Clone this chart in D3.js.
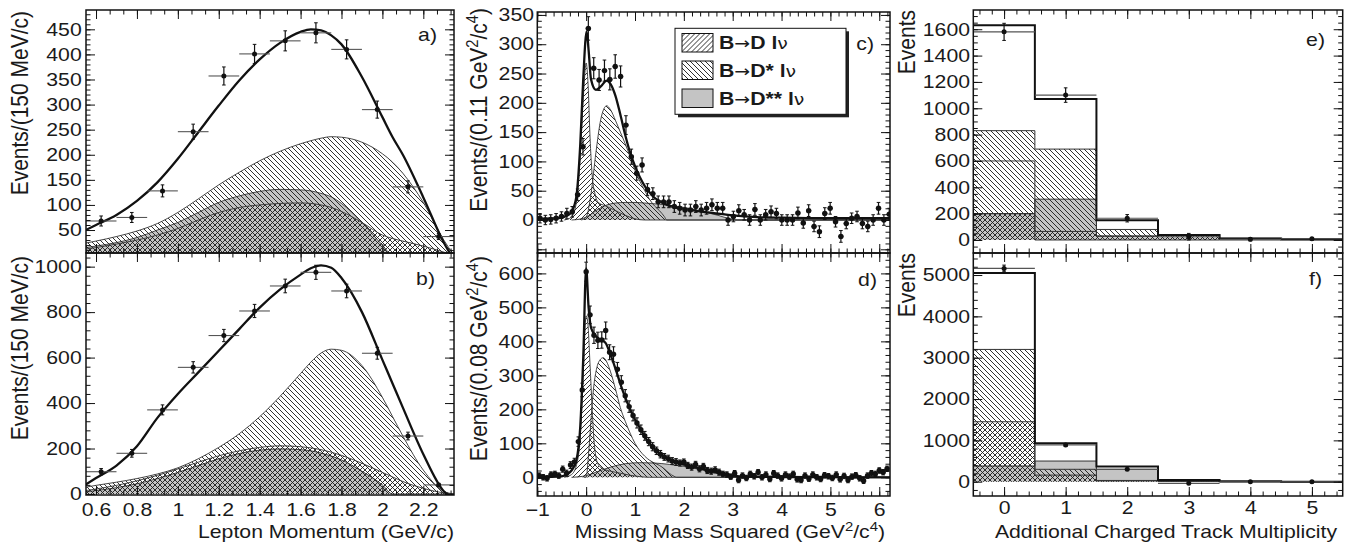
<!DOCTYPE html>
<html>
<head>
<meta charset="utf-8">
<script src="https://cdn.jsdelivr.net/npm/d3@7"></script>
<style>
  body { margin: 0; background: #fff; }
  svg { display: block; }
  text { font-family: "Liberation Sans", Arial, Helvetica, sans-serif; fill: #1a1a1a; }
</style>
</head>
<body>
<script>
const W = 1353, H = 544;
const SX = 1.18; // the reference glyphs are stretched horizontally

// ---- panels a/b : lepton momentum ----
const lepX  = [0.625, 0.775, 0.925, 1.075, 1.225, 1.375, 1.525, 1.675, 1.825, 1.975, 2.125, 2.275];
const aData = [68, 75, 128, 246, 357, 401, 427, 443, 410, 290, 136, 37];
const aErr  = [10, 10, 12, 15, 18, 19, 20, 20, 19, 17, 12, 6];
const bData = [98, 179, 370, 557, 697, 805, 915, 975, 893, 619, 255, 40];
const bErr  = [14, 17, 22, 25, 27, 29, 30, 31, 30, 26, 17, 7];

const lepGrid = [0.55, 0.6, 0.7, 0.8, 0.9, 1.0, 1.1, 1.2, 1.3, 1.4, 1.5, 1.6, 1.65, 1.7, 1.75, 1.8, 1.9, 2.0, 2.05, 2.1, 2.2, 2.3, 2.35];
const aTotal = [50, 60, 80, 108, 145, 192, 245, 298, 348, 390, 423, 445, 450, 448, 438, 420, 355, 275, 235, 200, 115, 25, -10];
const aDstar = [24, 28, 37, 48, 63, 85, 112, 140, 165, 188, 207, 222, 228, 233, 236, 235, 225, 202, 185, 163, 105, 30, 0];
const aD     = [12, 15, 22, 30, 40, 53, 70, 85, 95, 100, 103, 104, 103, 100, 95, 87, 65, 40, 33, 28, 18, 6, 0];
const aDss   = [15, 18, 25, 35, 50, 65, 85, 105, 118, 127, 131, 130, 128, 123, 116, 103, 65, 20, 0, 0, 0, 0, 0];
const bTotal = [42, 70, 125, 210, 335, 440, 535, 630, 725, 820, 900, 965, 993, 1006, 995, 950, 800, 590, 485, 380, 175, 12, -20];
const bDstar = [30, 38, 52, 68, 88, 115, 155, 205, 265, 340, 430, 530, 580, 620, 637, 632, 565, 425, 340, 255, 105, 12, 0];
const bD     = [15, 22, 38, 58, 82, 110, 140, 168, 190, 205, 212, 208, 203, 195, 184, 170, 135, 95, 75, 55, 25, 5, 0];
const bDss   = [10, 15, 28, 45, 68, 95, 125, 155, 178, 193, 198, 195, 190, 180, 167, 150, 100, 40, 0, 0, 0, 0, 0];

// ---- panels c/d : missing mass squared ----
const cBinLo = -1, cBinW = 0.11, dBinLo = -1, dBinW = 0.08;
const cData = [3, 0, 1, 3, 6, 11, 14, 43, 125, 327, 259, 239, 255, 240, 262, 245, 162, 108, 80, 94,
  52, 45, 31, 31, 31, 23, 20, 17, 17, 23, 17, 20, 26, 20, 20, 0, 6, 16, 9, 0,
  18, 0, 9, 14, 11, 0, 0, 0, 12, -5, 16, -11, -20, 11, 20, -3, -28, -6, 3, 6,
  -6, -11, 0, 20, 0, 10];
const cErr = [8, 8, 8, 8, 8, 9, 9, 10, 14, 20, 18, 18, 18, 18, 20, 18, 16, 13, 12, 12,
  10, 10, 10, 10, 10, 10, 10, 10, 10, 10, 10, 10, 10, 10, 10, 9, 9, 10, 9, 9,
  10, 9, 9, 10, 9, 9, 9, 9, 10, 9, 10, 9, 10, 10, 10, 9, 10, 9, 9, 9,
  9, 9, 9, 10, 9, 10];
const dData = [5, 0, -3, 8, 10, 5, 24, 12, 36, 45, 105, 257, 605, 478, 418, 403, 404, 432, 368, 362,
  318, 280, 240, 208, 182, 160, 140, 122, 105, 90, 78, 68, 60, 55, 48, 45, 42, 45, 35, 30,
  38, 25, 32, 20, 18, 22, 15, 10, 8, 2, 12, -8, 5, -2, 10, 3, 15, 0, 8, -5,
  12, 5, -3, 8, 2, 10, -6, -8, 5, -4, 8, 0, -5, 6, 3, -2, 8, -6, 4, -8,
  2, 6, -3, -10, 5, 12, 10, 20, 15, 25];
const dErr = [8, 8, 8, 8, 8, 8, 9, 9, 10, 11, 14, 20, 28, 26, 24, 24, 24, 25, 22, 22,
  20, 19, 18, 17, 16, 15, 14, 13, 12, 12, 11, 11, 10, 10, 10, 10, 9, 9, 9, 9,
  9, 9, 9, 9, 9, 9, 9, 8, 8, 8, 8, 8, 8, 8, 8, 8, 8, 8, 8, 8,
  8, 8, 8, 8, 8, 8, 8, 8, 8, 8, 8, 8, 8, 8, 8, 8, 8, 8, 8, 8,
  8, 8, 8, 8, 8, 8, 8, 8, 8, 8];

const cTotal = [[-1, 2], [-0.6, 3], [-0.4, 7], [-0.3, 14], [-0.2, 40], [-0.12, 130], [-0.06, 240], [0.01, 322], [0.05, 290], [0.1, 240], [0.2, 222], [0.3, 228], [0.42, 238], [0.5, 232], [0.6, 212], [0.7, 180], [0.8, 145], [0.9, 115], [1.0, 92], [1.1, 73], [1.2, 58], [1.3, 47], [1.4, 38], [1.6, 28], [1.8, 22], [2.0, 19], [2.5, 13], [3.0, 8], [3.5, 5], [4, 4], [5, 3], [6.22, 3]];
const cD     = [[-0.45, 0], [-0.3, 5], [-0.2, 30], [-0.12, 110], [-0.05, 220], [0, 268], [0.04, 230], [0.08, 140], [0.12, 80], [0.18, 45], [0.25, 30], [0.4, 24], [0.6, 16], [0.8, 8], [1.0, 2], [1.2, 0], [6.22, 0]];
const cDstar = [[-0.1, 0], [0, 5], [0.1, 45], [0.2, 115], [0.3, 172], [0.42, 195], [0.5, 188], [0.6, 170], [0.7, 150], [0.8, 130], [0.9, 108], [1.0, 85], [1.1, 66], [1.2, 50], [1.3, 35], [1.4, 24], [1.5, 16], [1.6, 6], [1.65, 0], [6.22, 0]];
const cDss   = [[-0.3, 0], [-0.1, 2], [0.1, 10], [0.2, 16], [0.4, 25], [0.6, 29], [0.8, 30], [1.0, 30], [1.2, 29], [1.5, 27], [1.8, 24], [2.1, 20], [2.4, 14], [2.7, 8], [2.9, 3], [3.1, 0], [6.22, 0]];
const dTotal = [[-1, 0], [-0.5, 3], [-0.4, 8], [-0.3, 20], [-0.2, 50], [-0.12, 150], [-0.06, 350], [0, 615], [0.05, 500], [0.1, 440], [0.2, 415], [0.3, 405], [0.4, 395], [0.5, 360], [0.6, 320], [0.7, 275], [0.8, 235], [0.9, 200], [1.0, 170], [1.1, 145], [1.2, 120], [1.3, 100], [1.4, 83], [1.5, 70], [1.6, 60], [1.8, 47], [2.0, 38], [2.2, 30], [2.4, 24], [2.6, 18], [2.8, 11], [3.0, 5], [3.3, 2], [4, 1], [6.22, 0]];
const dD     = [[-0.45, 0], [-0.3, 8], [-0.2, 35], [-0.12, 120], [-0.06, 300], [0, 475], [0.03, 460], [0.08, 330], [0.12, 210], [0.16, 110], [0.2, 60], [0.26, 35], [0.35, 25], [0.5, 18], [0.7, 12], [0.9, 6], [1.1, 2], [1.3, 0], [6.22, 0]];
const dDstar = [[-0.05, 0], [0, 0], [0.05, 70], [0.1, 170], [0.15, 260], [0.2, 310], [0.28, 345], [0.35, 352], [0.42, 340], [0.5, 310], [0.6, 260], [0.7, 205], [0.8, 165], [0.9, 130], [1.0, 100], [1.1, 78], [1.2, 62], [1.3, 50], [1.4, 42], [1.5, 35], [1.6, 25], [1.7, 12], [1.8, 3], [1.85, 0], [6.22, 0]];
const dDss   = [[-0.3, 0], [0, 5], [0.2, 15], [0.5, 30], [0.8, 40], [1.1, 43], [1.4, 42], [1.7, 38], [2.0, 32], [2.3, 24], [2.6, 14], [2.9, 5], [3.1, 0], [6.22, 0]];

// ---- panels e/f : additional charged track multiplicity ----
const trackBins = [0, 1, 2, 3, 4, 5];
const eTotal = [1630, 1070, 150, 38, 12, 5];
const eDstar = [830, 690, 80, 38, 12, 5];
const eDstarInner = [600, 0, 0, 0, 0, 0];
const eD     = [200, 65, 30, 38, 12, 5];
const eDss   = [200, 310, 30, 38, 12, 5];
const eData  = [1580, 1100, 165, 25, 5, 10];
const eErr   = [65, 55, 28, 25, 12, 8];
const fTotal = [5050, 930, 370, 40, 10, 0];
const fDstar = [3200, 300, 30, 20, 0, 0];
const fD     = [1450, 160, 20, 10, 0, 0];
const fDss   = [380, 500, 300, 10, 0, 0];
const fData  = [5160, 890, 300, -40, 0, 0];
const fErr   = [80, 35, 22, 15, 8, 8];

const legendItems = [
  { name: "D", fill: "url(#fwd)" },
  { name: "D*", fill: "url(#bwd)" },
  { name: "D**", fill: "#c4c4c4" }
];

const svg = d3.select("body").append("svg").attr("width", W).attr("height", H);
const defs = svg.append("defs");

function hatch(id, d) {
  defs.append("pattern").attr("id", id).attr("patternUnits", "userSpaceOnUse")
    .attr("width", 5).attr("height", 5)
    .append("path").attr("d", d).attr("stroke", "#1a1a1a").attr("stroke-width", 0.9).attr("fill", "none");
}
hatch("fwd", "M-1,1L1,-1M0,5L5,0M4,6L6,4");
hatch("bwd", "M-1,4L1,6M0,0L5,5M4,-1L6,1");

function panel(cfg) {
  const x = d3.scaleLinear().domain(cfg.xd).range([cfg.x0, cfg.x1]);
  const y = d3.scaleLinear().domain(cfg.yd).range([cfg.y0, cfg.y1]);
  const id = "clip-" + cfg.name;
  defs.append("clipPath").attr("id", id).append("rect")
    .attr("x", cfg.x0).attr("y", cfg.y1)
    .attr("width", cfg.x1 - cfg.x0).attr("height", cfg.y0 - cfg.y1);
  const g = svg.append("g").attr("class", "panel-" + cfg.name);
  const plot = g.append("g").attr("clip-path", `url(#${id})`);
  return { x, y, plot, g, cfg };
}

const mult = (dom, s) => d3.range(Math.ceil(dom[0] / s - 1e-6), Math.floor(dom[1] / s + 1e-6) + 1)
  .map(i => +(i * s).toFixed(6));
const fmt = d3.format("~g");

function frameAxes(p, t) {
  const { x, y, cfg, g } = p;
  const ag = g.append("g");
  const put = (axis, tx, ty) => {
    const gg = ag.append("g").attr("transform", `translate(${tx},${ty})`).call(axis);
    gg.select(".domain").remove();
    gg.attr("font-size", null).attr("font-family", null);
    gg.selectAll("line").attr("stroke", "#111").attr("stroke-width", 1);
    gg.selectAll("text").attr("font-size", 18).attr("fill", "#1a1a1a").attr("transform", `scale(${SX},1)`);
    return gg;
  };
  const yMaj = mult(y.domain(), t.ym), yMin = mult(y.domain(), t.ym / t.yn);
  const xMaj = mult(x.domain(), t.xm), xMin = mult(x.domain(), t.xm / t.xn);
  put(d3.axisLeft(y).tickValues(yMaj).tickSize(-9).tickPadding(t.yp / SX).tickFormat(v => v < 0 ? "" : fmt(v)), cfg.x0, 0);
  put(d3.axisLeft(y).tickValues(yMin).tickSize(-4.5).tickFormat(""), cfg.x0, 0);
  put(d3.axisRight(y).tickValues(yMaj).tickSize(-9).tickFormat(""), cfg.x1, 0);
  put(d3.axisRight(y).tickValues(yMin).tickSize(-4.5).tickFormat(""), cfg.x1, 0);
  put(d3.axisBottom(x).tickValues(xMaj).tickSize(-9).tickPadding(t.xp || 0).tickFormat(t.xl ? fmt : ""), 0, cfg.y0);
  put(d3.axisBottom(x).tickValues(xMin).tickSize(-4.5).tickFormat(""), 0, cfg.y0);
  put(d3.axisTop(x).tickValues(xMaj).tickSize(-9).tickFormat(""), 0, cfg.y1);
  put(d3.axisTop(x).tickValues(xMin).tickSize(-4.5).tickFormat(""), 0, cfg.y1);
  ag.append("rect").attr("x", cfg.x0).attr("y", cfg.y1)
    .attr("width", cfg.x1 - cfg.x0).attr("height", cfg.y0 - cfg.y1)
    .attr("fill", "none").attr("stroke", "#111").attr("stroke-width", 1.5);
}

// smooth fit components
function comp(p, pts, fill) {
  const area = d3.area().x(d => p.x(d[0])).y0(p.y(0)).y1(d => p.y(d[1])).curve(d3.curveMonotoneX);
  const line = d3.line().x(d => p.x(d[0])).y(d => p.y(d[1])).curve(d3.curveMonotoneX);
  p.plot.append("path").attr("d", area(pts)).attr("fill", fill);
  p.plot.append("path").attr("d", line(pts)).attr("fill", "none").attr("stroke", "#333").attr("stroke-width", 0.9);
}
function total(p, pts) {
  const line = d3.line().x(d => p.x(d[0])).y(d => p.y(d[1])).curve(d3.curveMonotoneX);
  p.plot.append("path").attr("d", line(pts)).attr("fill", "none").attr("stroke", "#111").attr("stroke-width", 2.3);
}

// step histograms
const stepPts = vals => trackBins.map((b, i) => [b - 0.5, vals[i]])
  .concat([[trackBins[trackBins.length - 1] + 0.5, vals[vals.length - 1]]]);
function hcomp(p, vals, fill) {
  const pts = stepPts(vals);
  if (fill) p.plot.append("path").attr("d", d3.area().x(d => p.x(d[0])).y0(p.y(0)).y1(d => p.y(d[1])).curve(d3.curveStepAfter)(pts))
    .attr("fill", fill);
  p.plot.append("path").attr("d", d3.line().x(d => p.x(d[0])).y(d => p.y(d[1])).curve(d3.curveStepAfter)(pts))
    .attr("fill", "none").attr("stroke", "#333").attr("stroke-width", 1);
}
function htotal(p, vals) {
  p.plot.append("path").attr("d", d3.line().x(d => p.x(d[0])).y(d => p.y(d[1])).curve(d3.curveStepAfter)(stepPts(vals)))
    .attr("fill", "none").attr("stroke", "#111").attr("stroke-width", 2);
}

function points(p, xs, vs, es, hw, r) {
  const pts = xs.map((xv, i) => ({ x: xv, v: vs[i], e: es[i] }));
  const g = p.plot.append("g");
  const s = g.selectAll("g").data(pts).join("g");
  s.append("line").attr("x1", d => p.x(d.x - hw)).attr("x2", d => p.x(d.x + hw))
    .attr("y1", d => p.y(d.v)).attr("y2", d => p.y(d.v)).attr("stroke", "#555").attr("stroke-width", 1.1);
  s.append("line").attr("x1", d => p.x(d.x)).attr("x2", d => p.x(d.x))
    .attr("y1", d => p.y(d.v - d.e)).attr("y2", d => p.y(d.v + d.e)).attr("stroke", "#111").attr("stroke-width", 1.2);
  [-1, 1].forEach(k => s.append("line")
    .attr("x1", d => p.x(d.x) - 1.8).attr("x2", d => p.x(d.x) + 1.8)
    .attr("y1", d => p.y(d.v + k * d.e)).attr("y2", d => p.y(d.v + k * d.e))
    .attr("stroke", "#111").attr("stroke-width", 1));
  s.append("circle").attr("cx", d => p.x(d.x)).attr("cy", d => p.y(d.v)).attr("r", r).attr("fill", "#111");
}

function label(txt, x, y) {
  svg.append("text").attr("transform", `translate(${x},${y}) scale(${SX},1)`)
    .attr("text-anchor", "end").attr("font-size", 18).text(txt);
}
function richText(parts, transform, size) {
  const t = svg.append("text").attr("transform", transform).attr("text-anchor", "end").attr("font-size", size);
  let up = false;
  parts.forEach(([s, sup]) => {
    const ts = t.append("tspan").text(s);
    if (sup && !up) { ts.attr("dy", -size * 0.38).attr("font-size", size * 0.7); up = true; }
    else if (sup) { ts.attr("font-size", size * 0.7); }
    else if (up) { ts.attr("dy", size * 0.38); up = false; }
  });
  return t;
}
const yTitle = (parts, x, y) => richText(parts, `translate(${x},${y}) scale(${SX},1) rotate(-90)`, 21);
const xTitle = (parts, x, y) => richText(parts, `translate(${x},${y}) scale(${SX},1)`, 18);

// ---------- a ----------
const pa = panel({ name: "a", x0: 86, x1: 454, y0: 253, y1: 10, xd: [0.551, 2.35], yd: [4.2, 488.5] });
comp(pa, d3.zip(lepGrid, aDss), "#c4c4c4");
comp(pa, d3.zip(lepGrid, aDstar), "url(#bwd)");
comp(pa, d3.zip(lepGrid, aD), "url(#fwd)");
total(pa, d3.zip(lepGrid, aTotal));
points(pa, lepX, aData, aErr, 0.075, 2.5);
frameAxes(pa, { ym: 50, yn: 5, yp: 4.3, xm: 0.2, xn: 3, xl: false });

// ---------- b ----------
const pb = panel({ name: "b", x0: 86, x1: 454, y0: 495, y1: 253, xd: [0.551, 2.35], yd: [-4.4, 1060] });
comp(pb, d3.zip(lepGrid, bDss), "#c4c4c4");
comp(pb, d3.zip(lepGrid, bDstar), "url(#bwd)");
comp(pb, d3.zip(lepGrid, bD), "url(#fwd)");
total(pb, d3.zip(lepGrid, bTotal));
points(pb, lepX, bData, bErr, 0.075, 2.5);
frameAxes(pb, { ym: 200, yn: 5, yp: 4.3, xm: 0.2, xn: 3, xl: true, xp: 8 });

// ---------- c ----------
const pc = panel({ name: "c", x0: 537.3, x1: 890, y0: 253, y1: 12, xd: [-1, 6.22], yd: [-56.3, 355] });
comp(pc, cDss, "#c4c4c4");
comp(pc, cDstar, "url(#bwd)");
comp(pc, cD, "url(#fwd)");
total(pc, cTotal);
points(pc, cData.map((_, i) => cBinLo + cBinW * (i + 0.5)), cData, cErr, cBinW / 2, 2.7);
frameAxes(pc, { ym: 50, yn: 5, yp: 3.3, xm: 1, xn: 6, xl: false });

// ---------- d ----------
const pd = panel({ name: "d", x0: 537.3, x1: 890, y0: 496, y1: 253, xd: [-1, 6.22], yd: [-55, 660] });
comp(pd, dDss, "#c4c4c4");
comp(pd, dDstar, "url(#bwd)");
comp(pd, dD, "url(#fwd)");
total(pd, dTotal);
points(pd, dData.map((_, i) => dBinLo + dBinW * (i + 0.5)), dData, dErr, dBinW / 2, 2.7);
frameAxes(pd, { ym: 100, yn: 5, yp: 3.3, xm: 1, xn: 6, xl: true, xp: 7 });

// ---------- e ----------
const pe = panel({ name: "e", x0: 973.3, x1: 1342.7, y0: 253, y1: 10, xd: [-0.5, 5.5], yd: [-98.7, 1746] });
hcomp(pe, eDss, "#c4c4c4");
hcomp(pe, eDstar, "url(#bwd)");
hcomp(pe, eDstarInner, null);
hcomp(pe, eD, "url(#fwd)");
htotal(pe, eTotal);
points(pe, trackBins, eData, eErr, 0.5, 2.5);
frameAxes(pe, { ym: 200, yn: 4, yp: 3.3, xm: 1, xn: 5, xl: false });

// ---------- f ----------
const pf = panel({ name: "f", x0: 973.3, x1: 1342.7, y0: 496, y1: 253, xd: [-0.5, 5.5], yd: [-346, 5533] });
hcomp(pf, fDss, "#c4c4c4");
hcomp(pf, fDstar, "url(#bwd)");
hcomp(pf, fD, "url(#fwd)");
htotal(pf, fTotal);
points(pf, trackBins, fData, fErr, 0.5, 2.5);
frameAxes(pf, { ym: 1000, yn: 5, yp: 3.3, xm: 1, xn: 5, xl: true, xp: 5.5 });

// panel tags
label("a)", 437, 41);
label("b)", 435, 285);
label("c)", 874, 50);
label("d)", 877, 286);
label("e)", 1325, 46);
label("f)", 1322, 285);

// axis titles
yTitle([["Events/(150 MeV/c)", 0]], 28, 11);
yTitle([["Events/(150 MeV/c)", 0]], 28, 256);
yTitle([["Events/(0.11 GeV", 0], ["2", 1], ["/c", 0], ["4", 1], [")", 0]], 487, 8);
yTitle([["Events/(0.08 GeV", 0], ["2", 1], ["/c", 0], ["4", 1], [")", 0]], 487, 256);
yTitle([["Events", 0]], 915, 10);
yTitle([["Events", 0]], 915, 253);
xTitle([["Lepton Momentum (GeV/c)", 0]], 454, 538);
xTitle([["Missing Mass Squared (GeV", 0], ["2", 1], ["/c", 0], ["4", 1], [")", 0]], 885, 538);
xTitle([["Additional Charged Track Multiplicity", 0]], 1337, 538);

// legend
const lg = svg.append("g");
lg.append("rect").attr("x", 678).attr("y", 31.3).attr("width", 171).attr("height", 86).attr("fill", "#222");
lg.append("rect").attr("x", 675).attr("y", 28.3).attr("width", 171).attr("height", 86)
  .attr("fill", "#fff").attr("stroke", "#111").attr("stroke-width", 1);
const rows = lg.selectAll("g.row").data(legendItems).join("g").attr("class", "row")
  .attr("transform", (d, i) => `translate(0,${[33.5, 61, 89][i]})`);
rows.append("rect").attr("x", 682).attr("y", 0).attr("width", 31).attr("height", 18.5)
  .attr("fill", d => d.fill).attr("stroke", "#111").attr("stroke-width", 1);
const lt = rows.append("text").attr("transform", `translate(719,15.5) scale(${SX},1)`).attr("font-size", 18);
lt.append("tspan").attr("font-weight", "bold").text("B");
lt.append("tspan").attr("font-family", "DejaVu Sans").attr("font-size", 16).text("\u2192");
lt.append("tspan").attr("font-weight", "bold").text(d => d.name + " l");
lt.append("tspan").attr("font-family", "DejaVu Sans").attr("font-size", 16).text("\u03bd");
</script>
</body>
</html>
